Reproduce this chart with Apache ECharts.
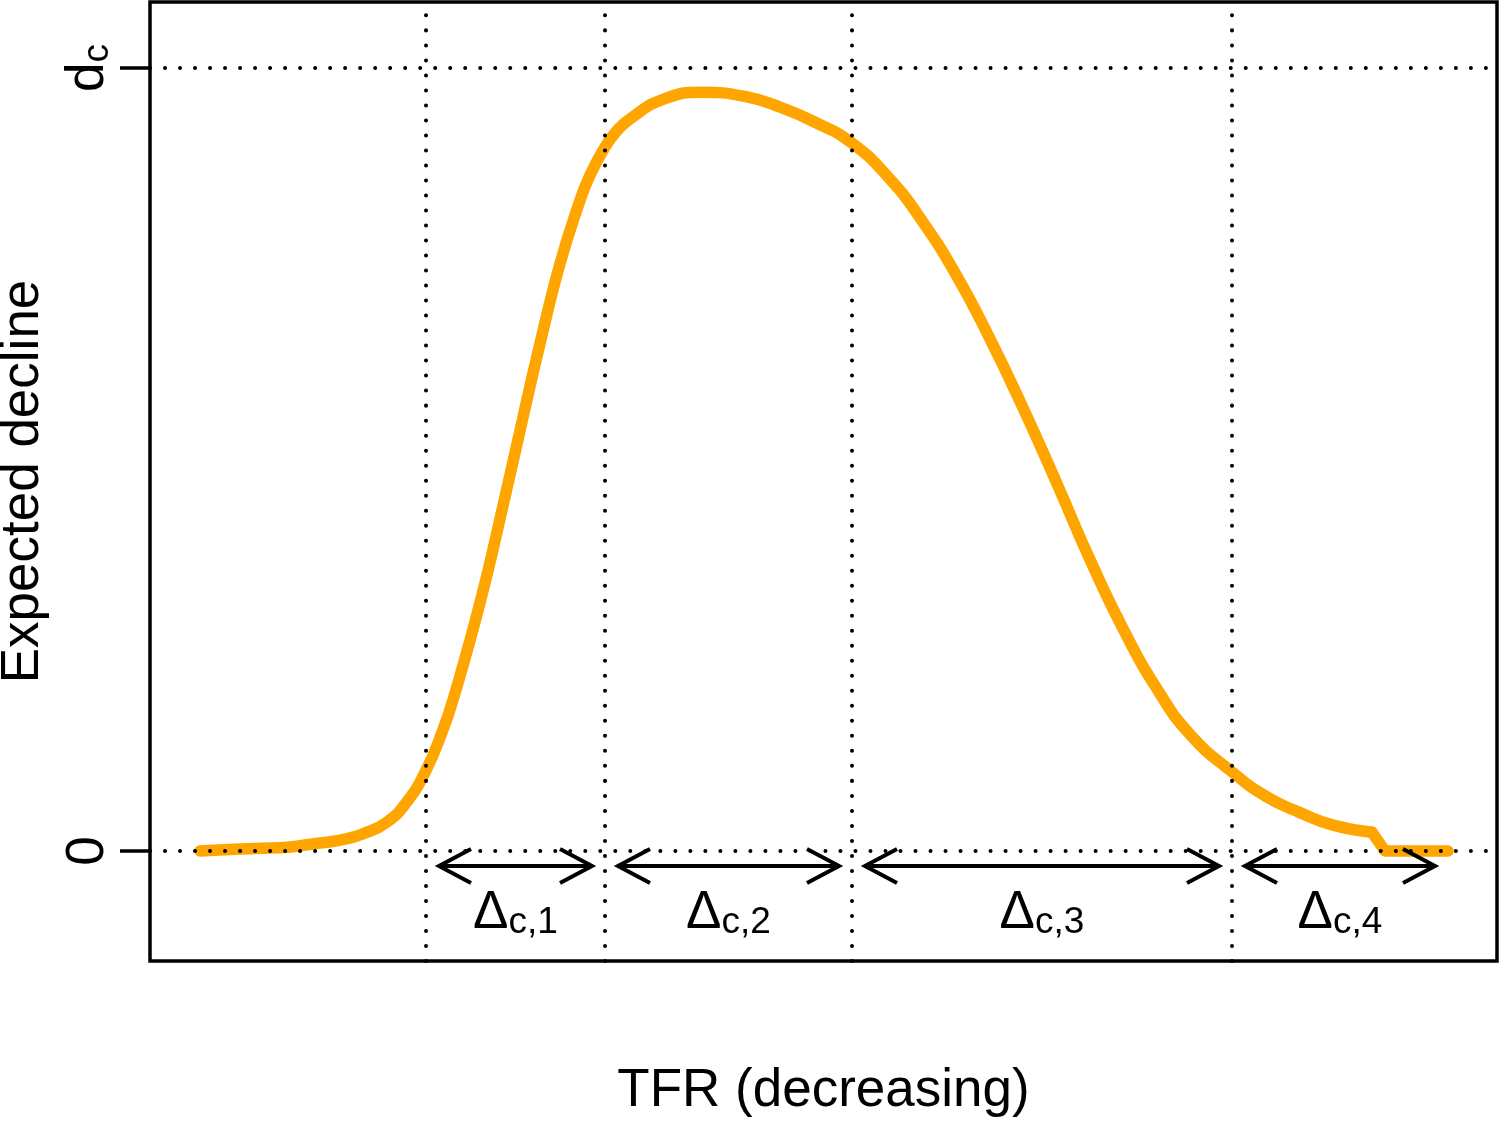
<!DOCTYPE html>
<html>
<head>
<meta charset="utf-8">
<script src="https://cdn.jsdelivr.net/npm/echarts@6/dist/echarts.min.js"></script>
<style>
html,body{margin:0;padding:0;background:#fff;}
#chart{width:1500px;height:1122px;}
</style>
</head>
<body>
<div id="chart"></div>
<script>
// ---- data ----
var curveX = [50,97,130,163,190,213,237,257,276,293,303,330,353,373,390,410,430,440,455,467,480,513,553,597,630,663,702,740,773,807,840,873,907,940,973,1007,1040,1082,1117,1150,1183,1222,1235,1298];
var curveY = [0.000,0.003,0.004,0.009,0.014,0.022,0.037,0.063,0.103,0.155,0.193,0.317,0.441,0.554,0.648,0.750,0.831,0.863,0.899,0.920,0.935,0.960,0.969,0.963,0.950,0.932,0.904,0.858,0.803,0.734,0.654,0.566,0.469,0.372,0.284,0.207,0.149,0.101,0.069,0.049,0.033,0.024,0.000,0.000];
// the last two points form the sharp cut-off to zero
var cutIndex = 41;
var boundaryX = [276, 455, 702, 1082];
var regionStart = [276, 455, 702, 1082];
var regionEnd = [455, 702, 1082, 1298];
var regionSub = ['c,1', 'c,2', 'c,3', 'c,4'];
var yTickValues = [0, 1];
var yTickLabels = ['0', 'dc'];
var refLevels = [0, 1];

var FONT = 'Liberation Sans';
var curveData = curveX.map(function (x, i) { return [x, curveY[i]]; });
var smoothPart = curveData.slice(0, cutIndex + 1);
var tailPart = curveData.slice(cutIndex);
var arrowData = regionStart.map(function (s, i) { return [s, regionEnd[i], i]; });

var markData = refLevels.map(function (v) { return { yAxis: v }; })
  .concat(boundaryX.map(function (v) { return { xAxis: v }; }));

var chart = echarts.init(document.getElementById('chart'), null, { renderer: 'canvas' });

var ARROW_Y = -0.0192;   // arrow row position (axis units)
var LABEL_Y = -0.080;    // label row position (axis units)
var CURVE_STYLE = { color: '#FFA500', width: 11.5, cap: 'round', join: 'round' };

var option = {
  animation: false,
  backgroundColor: '#fff',
  grid: {
    left: 150, right: 3, top: 2, bottom: 161,
    outerBoundsMode: 'none', containLabel: false,
    show: true, borderColor: '#000', borderWidth: 3.5, backgroundColor: 'transparent'
  },
  xAxis: {
    type: 'value', min: 0, max: 1347,
    axisLine: { show: false }, axisTick: { show: false }, axisLabel: { show: false },
    splitLine: { show: false },
    name: 'TFR (decreasing)', nameLocation: 'middle', nameGap: 104,
    nameTextStyle: { fontFamily: FONT, fontSize: 53, color: '#000' }
  },
  yAxis: {
    type: 'value', min: -0.1405, max: 1.0843,
    axisLine: { show: false },
    splitLine: { show: false },
    axisTick: {
      show: true, customValues: yTickValues, length: 30, inside: false,
      lineStyle: { color: '#000', width: 3.5 }
    },
    axisLabel: {
      show: true, customValues: yTickValues, rotate: 90, margin: 34,
      formatter: function (v) {
        var idx = yTickValues.indexOf(v);
        var t = idx >= 0 ? yTickLabels[idx] : '';
        if (t === 'dc') return '{m|d}{s|c}';
        return '{m|' + t + '}';
      },
      rich: {
        m: { fontFamily: FONT, fontSize: 53, color: '#000', lineHeight: 56 },
        s: { fontFamily: FONT, fontSize: 37, color: '#000', lineHeight: 16, verticalAlign: 'bottom' }
      }
    },
    name: 'Expected decline', nameLocation: 'middle', nameGap: 100, nameRotate: 90,
    nameTextStyle: { fontFamily: FONT, fontSize: 53, color: '#000' }
  },
  series: [
    {
      type: 'line', data: [], z: 1, silent: true,
      markLine: {
        silent: true, symbol: ['none', 'none'], label: { show: false },
        lineStyle: { color: '#000', width: 4, type: [0.01, 15], cap: 'round' },
        emphasis: { disabled: true },
        data: markData
      }
    },
    {
      type: 'line', data: smoothPart, z: 3, showSymbol: false, smooth: 0.5, silent: true,
      lineStyle: CURVE_STYLE
    },
    {
      type: 'line', data: tailPart, z: 3, showSymbol: false, smooth: false, silent: true,
      lineStyle: CURVE_STYLE
    },
    {
      type: 'custom', z: 4, silent: true,
      data: arrowData,
      renderItem: function (params, api) {
        var i = api.value(2);
        var p0 = api.coord([api.value(0), ARROW_Y]);
        var p1 = api.coord([api.value(1), ARROW_Y]);
        var lp = api.coord([(api.value(0) + api.value(1)) / 2, LABEL_Y]);
        var inset = 13, hx = 32, hy = 17;
        var xl = p0[0] + inset, xr = p1[0] - inset, y = p0[1];
        var ls = { stroke: '#000', lineWidth: 4, fill: null, lineCap: 'butt', lineJoin: 'miter' };
        return {
          type: 'group',
          children: [
            { type: 'line', shape: { x1: xl, y1: y, x2: xr, y2: y }, style: ls },
            { type: 'polyline', shape: { points: [[xl + hx, y - hy], [xl, y], [xl + hx, y + hy]] }, style: ls },
            { type: 'polyline', shape: { points: [[xr - hx, y - hy], [xr, y], [xr - hx, y + hy]] }, style: ls },
            {
              type: 'text', x: lp[0], y: lp[1],
              style: {
                text: '{m|Δ}{s|' + regionSub[i] + '}',
                align: 'center', verticalAlign: 'middle',
                rich: {
                  m: { fontFamily: FONT, fontSize: 53, fill: '#000', lineHeight: 56 },
                  s: { fontFamily: FONT, fontSize: 37, fill: '#000', lineHeight: 12, verticalAlign: 'bottom' }
                }
              }
            }
          ]
        };
      }
    }
  ]
};
chart.setOption(option);
</script>
</body>
</html>
